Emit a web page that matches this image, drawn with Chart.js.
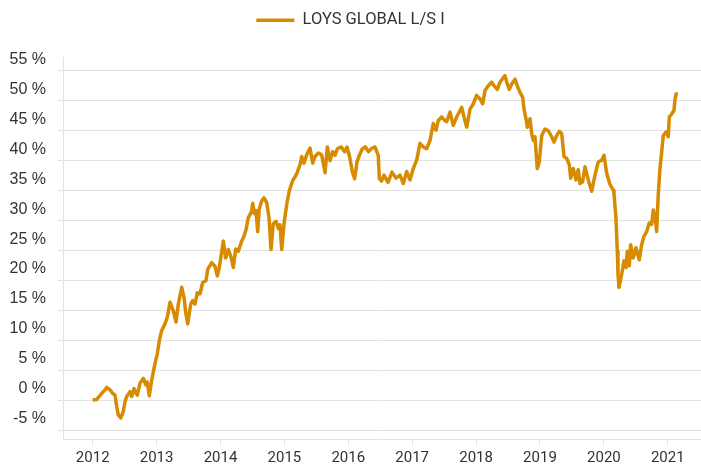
<!DOCTYPE html>
<html>
<head>
<meta charset="utf-8">
<script src="https://cdn.jsdelivr.net/npm/chart.js@4.4.0/dist/chart.umd.min.js"></script>
<style>
  html, body { margin: 0; padding: 0; background: #ffffff; }
  #wrap { width: 701px; height: 464px; position: relative; }
</style>
</head>
<body>
<div id="wrap"><canvas id="c"></canvas></div>
<script>
const seriesName = 'LOYS GLOBAL L/S I';
const years = [2012, 2013, 2014, 2015, 2016, 2017, 2018, 2019, 2020, 2021];
const yTickValues = [-5, 0, 5, 10, 15, 20, 25, 30, 35, 40, 45, 50, 55];

const dates2012_2014 = [
  2012.000, 2012.063, 2012.141, 2012.192, 2012.219, 2012.271, 2012.313, 2012.349, 2012.376, 2012.401,
  2012.438, 2012.479, 2012.505, 2012.532, 2012.584, 2012.610, 2012.646, 2012.698, 2012.740, 2012.792,
  2012.834, 2012.854, 2012.886, 2012.923, 2012.975, 2013.011, 2013.042, 2013.080, 2013.131, 2013.167,
  2013.210, 2013.261, 2013.304, 2013.340, 2013.393, 2013.429, 2013.460, 2013.487, 2013.534, 2013.565,
  2013.601, 2013.637, 2013.679, 2013.721, 2013.773, 2013.800, 2013.862, 2013.914, 2013.950, 2013.981
];
const values2012_2014 = [
  0.0, 0.1, 1.1, 1.7, 2.1, 1.7, 1.1, 0.8, -1.1, -2.5,
  -3.0, -1.9, -0.3, 0.6, 1.4, 0.6, 1.9, 0.8, 2.8, 3.6,
  2.5, 3.0, 0.7, 3.3, 6.1, 7.7, 9.9, 11.6, 12.7, 13.8,
  16.3, 14.9, 13.0, 16.0, 18.8, 17.1, 14.3, 12.7, 16.0, 16.6,
  16.0, 17.9, 17.7, 19.6, 19.9, 21.8, 22.9, 22.3, 20.7, 22.1
];

const dates2014_2016 = [
  2014.044, 2014.081, 2014.122, 2014.160, 2014.200, 2014.238, 2014.279, 2014.332, 2014.368, 2014.399,
  2014.435, 2014.488, 2014.504, 2014.530, 2014.556, 2014.582, 2014.607, 2014.645, 2014.681, 2014.723,
  2014.759, 2014.790, 2014.826, 2014.869, 2014.905, 2014.931, 2014.958, 2014.994, 2015.036, 2015.077,
  2015.130, 2015.166, 2015.202, 2015.244, 2015.271, 2015.307, 2015.349, 2015.401, 2015.443, 2015.479,
  2015.531, 2015.583, 2015.636, 2015.672, 2015.714, 2015.756, 2015.792, 2015.828, 2015.891, 2015.943
];
const values2014_2016 = [
  26.5, 23.7, 25.1, 24.0, 22.1, 25.2, 24.8, 26.5, 27.3, 28.4,
  30.4, 31.5, 32.8, 31.1, 31.6, 28.1, 31.9, 33.2, 33.7, 32.9,
  30.4, 25.1, 29.4, 29.8, 28.6, 29.2, 25.1, 29.4, 32.6, 34.9,
  36.6, 37.2, 38.0, 39.2, 40.6, 39.5, 40.9, 42.0, 39.5, 40.6,
  41.2, 40.9, 37.9, 42.2, 39.9, 41.4, 40.8, 41.9, 42.2, 41.4
];

const dates2016_2018 = [
  2015.980, 2016.020, 2016.063, 2016.099, 2016.136, 2016.173, 2016.220, 2016.266, 2016.318, 2016.355,
  2016.417, 2016.469, 2016.485, 2016.520, 2016.559, 2016.621, 2016.684, 2016.746, 2016.809, 2016.861,
  2016.914, 2016.966, 2017.017, 2017.070, 2017.122, 2017.174, 2017.227, 2017.279, 2017.330, 2017.373,
  2017.408, 2017.462, 2017.513, 2017.540, 2017.592, 2017.643, 2017.696, 2017.775, 2017.811, 2017.853,
  2017.905, 2017.956
];
const values2016_2018 = [
  42.2, 40.6, 38.1, 36.9, 39.7, 40.8, 41.9, 42.2, 41.4, 41.9,
  42.2, 40.8, 37.0, 36.5, 37.5, 36.3, 38.0, 37.0, 37.5, 36.1,
  38.1, 36.7, 38.6, 40.0, 42.8, 42.2, 41.9, 43.3, 46.1, 45.0,
  46.6, 47.2, 46.6, 46.4, 48.0, 45.8, 47.2, 48.8, 47.2, 45.5,
  48.5, 49.4
];

const dates2018_2020 = [
  2018.009, 2018.061, 2018.103, 2018.139, 2018.191, 2018.244, 2018.296, 2018.332, 2018.374, 2018.452,
  2018.488, 2018.520, 2018.557, 2018.609, 2018.645, 2018.687, 2018.729, 2018.750, 2018.781, 2018.801,
  2018.844, 2018.870, 2018.895, 2018.922, 2018.958, 2018.989, 2019.027, 2019.078, 2019.130, 2019.183,
  2019.219, 2019.261, 2019.302, 2019.340, 2019.376, 2019.418, 2019.459, 2019.480, 2019.521, 2019.563,
  2019.599, 2019.626, 2019.668, 2019.704, 2019.756, 2019.809, 2019.861, 2019.912, 2019.966
];
const values2018_2020 = [
  50.8, 50.2, 49.4, 51.6, 52.4, 53.0, 52.2, 51.8, 53.0, 54.1,
  52.7, 51.8, 52.7, 53.5, 52.4, 51.3, 50.5, 48.5, 46.9, 45.5,
  46.9, 44.4, 43.3, 43.9, 38.6, 39.7, 44.1, 45.2, 44.9, 43.9,
  43.0, 44.1, 44.8, 44.4, 40.6, 40.3, 39.2, 37.0, 38.6, 36.7,
  38.4, 36.1, 36.4, 38.9, 36.7, 34.8, 37.5, 39.7, 40.0
];

const dates2020_2021 = [
  2020.002, 2020.044, 2020.097, 2020.147, 2020.158, 2020.189, 2020.210, 2020.221, 2020.237, 2020.279,
  2020.315, 2020.346, 2020.366, 2020.398, 2020.419, 2020.460, 2020.502, 2020.554, 2020.591, 2020.627,
  2020.670, 2020.710, 2020.748, 2020.773, 2020.800, 2020.826, 2020.851, 2020.878, 2020.905, 2020.930,
  2020.972, 2021.008, 2021.024, 2021.061, 2021.097, 2021.113, 2021.139
];
const values2020_2021 = [
  40.8, 37.8, 35.9, 35.0, 34.5, 30.3, 24.8, 21.0, 18.8, 21.0,
  23.2, 22.1, 24.8, 22.4, 25.9, 23.7, 25.4, 23.4, 25.9, 27.3,
  28.1, 29.5, 29.3, 31.7, 30.6, 28.1, 34.2, 38.6, 41.4, 44.1,
  44.7, 43.9, 47.2, 47.7, 48.3, 50.2, 51.3
];

const dates = [].concat(dates2012_2014, dates2014_2016, dates2016_2018, dates2018_2020, dates2020_2021);
const values = [].concat(values2012_2014, values2014_2016, values2016_2018, values2018_2020, values2020_2021);
const points = dates.map((d, i) => ({ x: d, y: values[i] }));

const lineColor = '#d68b00';
const gridColor = '#e2e2e2';
const textColor = '#333333';

const legendSpacer = {
  id: 'legendSpacer',
  afterInit(chart) {
    const legend = chart.legend;
    if (!legend) return;
    const orig = legend.fit;
    legend.fit = function () { orig.call(this); this.height += 18.5; };
  }
};

new Chart(document.getElementById('c'), {
  type: 'line',
  data: {
    datasets: [{
      label: seriesName,
      data: points,
      borderColor: lineColor,
      backgroundColor: lineColor,
      borderWidth: 3.5,
      pointRadius: 0,
      tension: 0,
      borderJoinStyle: 'round',
      fill: false
    }]
  },
  options: {
    responsive: true,
    maintainAspectRatio: false,
    animation: false,
    layout: { padding: 0 },
    plugins: {
      legend: {
        display: true,
        position: 'top',
        labels: {
          usePointStyle: true,
          pointStyle: 'line',
          pointStyleWidth: 38,
          padding: 12,
          color: textColor,
          font: { family: 'Roboto', size: 16.5 }
        }
      },
      tooltip: { enabled: false }
    },
    scales: {
      x: {
        type: 'linear',
        min: 2011.535,
        max: 2021.52,
        afterBuildTicks: (scale) => { scale.ticks = years.map(v => ({ value: v })); },
        afterFit: (scale) => { scale.height = 25; },
        grid: {
          drawOnChartArea: false,
          drawTicks: true,
          tickLength: 6,
          color: gridColor
        },
        border: { display: true, color: gridColor, width: 1 },
        ticks: {
          padding: 4,
          color: textColor,
          maxRotation: 0,
          font: { family: 'Roboto', size: 15 },
          callback: (v) => String(v)
        }
      },
      y: {
        type: 'linear',
        min: -6.5,
        max: 57.2,
        afterBuildTicks: (scale) => { scale.ticks = yTickValues.map(v => ({ value: v })); },
        afterFit: (scale) => { scale.width = 63; },
        grid: {
          drawOnChartArea: true,
          drawTicks: true,
          tickLength: 5,
          color: gridColor
        },
        border: { display: true, color: gridColor, width: 1 },
        ticks: {
          padding: 12,
          labelOffset: -11,
          color: textColor,
          font: { family: 'Liberation Sans', size: 16 },
          callback: (v) => v + ' %'
        }
      }
    }
  },
  plugins: [legendSpacer]
});
</script>
</body>
</html>
